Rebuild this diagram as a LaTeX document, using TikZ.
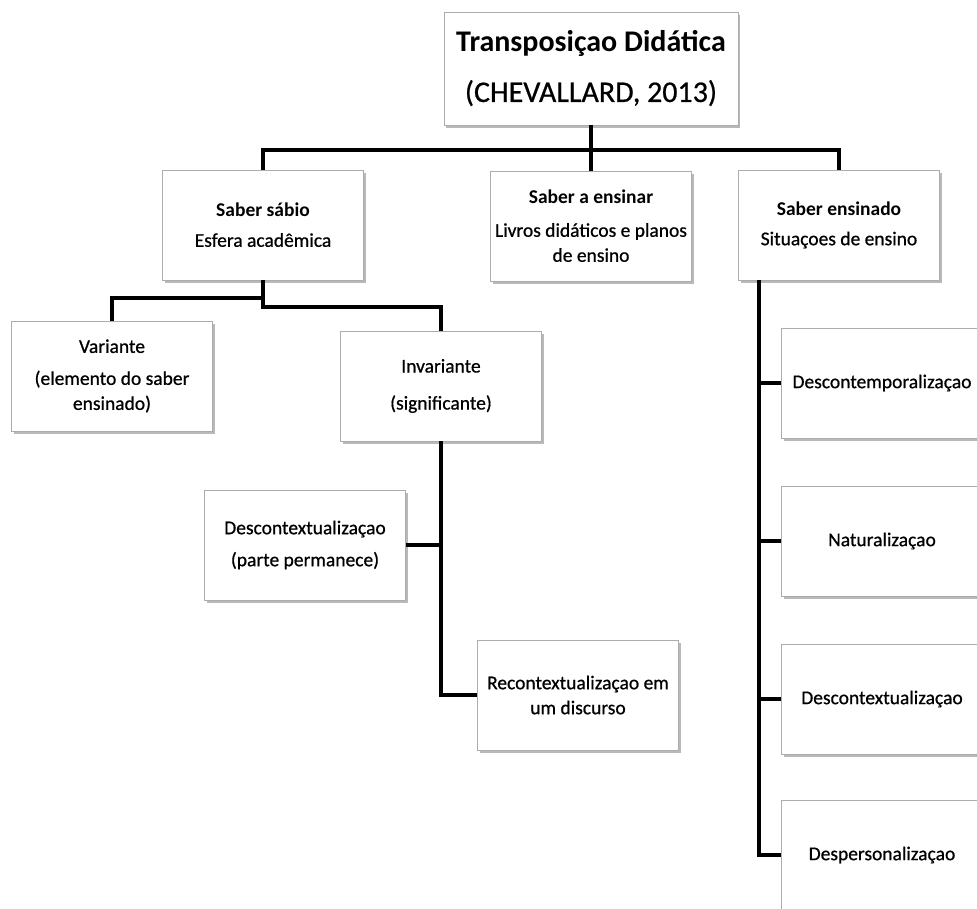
\documentclass[tikz,border=0pt]{standalone}
\usepackage{fontspec}
\setmainfont{Carlito}[UprightFeatures={FakeBold=0.7}]
\usetikzlibrary{shadows}
\begin{document}
\begin{tikzpicture}[x=1pt,y=-1pt,
  box/.style={draw=gray!65, line width=0.8pt, fill=white,
    minimum width=201pt, minimum height=110pt, align=center, inner sep=0pt,
    font=\fontsize{19.5}{25}\selectfont,
    drop shadow={shadow xshift=2pt, shadow yshift=-3pt, opacity=0.5, fill=black!55}},
  conn/.style={line width=4pt, line join=miter, draw=black}]
\clip (0,0) rectangle (977,908);
% nodes
\node[box, minimum width=294pt, minimum height=113pt, font=\fontsize{30}{50}\selectfont] (top) at (591,68.5)
  {\textbf{Transposiçao Didática}\\(CHEVALLARD, 2013)};
\node[box] (ss) at (263,225) {\textbf{Saber sábio}\\[5pt]Esfera acadêmica};
\node[box] (sae) at (591,226) {\textbf{Saber a ensinar}\\[8pt]Livros didáticos e planos\\de ensino};
\node[box] (sen) at (839,225) {\textbf{Saber ensinado}\\[5pt]Situaçoes de ensino};
\node[box] (var) at (112,376) {Variante\\[7pt](elemento do saber\\ensinado)};
\node[box] (inv) at (441,386) {Invariante\\[12pt](significante)};
\node[box] (dct) at (305,545) {Descontextualizaçao\\[7pt](parte permanece)};
\node[box] (rct) at (578,695) {Recontextualizaçao em\\um discurso};
\node[box] (r1) at (882,383) {Descontemporalizaçao};
\node[box] (r2) at (882,541) {Naturalizaçao};
\node[box] (r3) at (882,699) {Descontextualizaçao};
\node[box] (r4) at (882,855) {Despersonalizaçao};
% connectors
\coordinate (bus) at (591,150);
\draw[conn] (top.south) -- (sae.north);
\draw[conn] (ss.north) |- (bus) -| (sen.north);
\draw[conn] (ss.south) -- ++(0,18) -| (var.north);
\draw[conn] (ss.south) -- ++(0,27) -| (inv.north);
\draw[conn] (inv.south) |- (rct.west);
\draw[conn] (dct.east) -- (dct.east -| inv.south);
\coordinate (sv) at ([xshift=21pt]sen.south west);
\draw[conn] (sv) |- (r4.west);
\draw[conn] (r1.west) -- (r1.west -| sv);
\draw[conn] (r2.west) -- (r2.west -| sv);
\draw[conn] (r3.west) -- (r3.west -| sv);
\end{tikzpicture}
\end{document}
